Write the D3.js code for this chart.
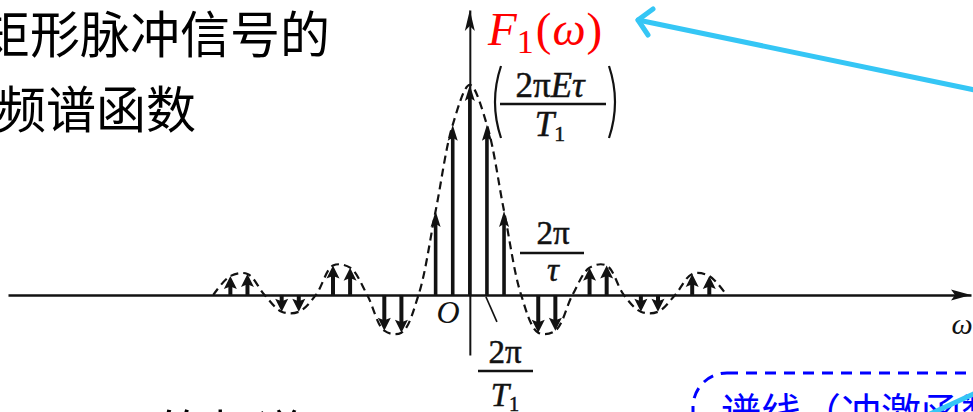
<!DOCTYPE html>
<html>
<head>
<meta charset="utf-8">
<script src="https://cdn.jsdelivr.net/npm/d3@7"></script>
<style>
  html, body { margin: 0; padding: 0; background: #fff; overflow: hidden; }
  svg { display: block; }
</style>
</head>
<body>
<svg id="chart" width="973" height="412"></svg>
<script>
// Line spectrum of a periodic rectangular pulse train (τ/T1 = 1/3).
// Harmonic index n, so ω = n·2π/T1.
const harmonicIndex = [-14, -13, -11, -10, -8, -7, -5, -4, -2, -1, 0, 1, 2, 4, 5, 7, 8, 10, 11, 13, 14];
// Height of each spectral line, in units of 2πEτ/T1.
const lineHeight = [0.09, 0.10, -0.08, -0.08, 0.14, 0.13, -0.17, -0.18, 0.40, 0.81, 1.00, 0.81, 0.40,
                    -0.18, -0.17, 0.13, 0.14, -0.08, -0.08, 0.10, 0.09];
// Zero crossings of the Sa(·) envelope (multiples of 2π/τ).
const envelopeZeros = [-15, -12, -9, -6, -3, 3, 6, 9, 12, 15];
// Extent of the ω axis and of the F1(ω) axis, in the same units.
const omegaExtent = [-27, 29.3];
const ampExtent = [-0.286, 1.357];

const svg = d3.select("#chart");
const W = 973, H = 412;
svg.append("rect").attr("width", W).attr("height", H).attr("fill", "#fff");

const x = d3.scaleLinear().domain(omegaExtent).range([8, 971]);
const y = d3.scaleLinear().domain(ampExtent).range([355, 10]);

const ink = "#121212";
const mathFont = "'Liberation Serif', 'DejaVu Serif', serif";
const cjkFont = "'Noto Sans CJK SC', 'Noto Sans', sans-serif";

// ---------- slide text (left) ----------
svg.append("text")
  .attr("x", 330).attr("y", 53)
  .attr("text-anchor", "end")
  .attr("font-family", cjkFont).attr("font-size", 50).attr("fill", "#000")
  .text("矩形脉冲信号的");
svg.append("text")
  .attr("x", 196).attr("y", 128)
  .attr("text-anchor", "end")
  .attr("font-family", cjkFont).attr("font-size", 50).attr("fill", "#000")
  .text("频谱函数");

// lower line, mostly below the visible area
const lower = svg.append("text")
  .attr("x", -60).attr("y", 452)
  .attr("font-family", cjkFont).attr("font-size", 50).attr("fill", "#000");
lower.append("tspan").text("就是");
lower.append("tspan").attr("font-family", mathFont).attr("font-style", "italic").text("F");
lower.append("tspan").attr("font-family", mathFont).attr("font-size", 32).attr("dy", 8).text("0");
lower.append("tspan").attr("font-family", mathFont).attr("dy", -8).text("(");
lower.append("tspan").attr("font-family", mathFont).attr("font-style", "italic").text("ω");
lower.append("tspan").attr("font-family", mathFont).text(")");
lower.append("tspan").text("的频谱");

// ---------- axes ----------
const xAxis = d3.axisBottom(x).tickValues([]).tickSizeOuter(0);
const gx = svg.append("g").attr("transform", `translate(0,${y(0)})`).call(xAxis);
gx.select(".domain").attr("stroke", ink).attr("stroke-width", 2.6);

const yAxis = d3.axisLeft(y).tickValues([]).tickSizeOuter(0);
const gy = svg.append("g").attr("transform", `translate(${x(0)},0)`).call(yAxis);
gy.select(".domain").attr("stroke", ink).attr("stroke-width", 2);

// axis arrowheads
const xEnd = x.range()[1], yTop = y.range()[1];
svg.append("path")
  .attr("d", `M${xEnd},${y(0)} L${xEnd - 20},${y(0) - 5.5} L${xEnd - 16},${y(0)} L${xEnd - 20},${y(0) + 5.5} Z`)
  .attr("fill", ink);
svg.append("path")
  .attr("d", `M${x(0)},${yTop} L${x(0) - 5},${yTop + 21} L${x(0)},${yTop + 16} L${x(0) + 5},${yTop + 21} Z`)
  .attr("fill", ink);

// ---------- envelope (dashed) ----------
const envPoints = envelopeZeros.map(n => [n, 0])
  .concat(harmonicIndex.map((n, i) => [n, lineHeight[i]]))
  .sort((a, b) => a[0] - b[0]);
const envLine = d3.line()
  .x(d => x(d[0]))
  .y(d => y(d[1]))
  .curve(d3.curveCatmullRom.alpha(0.5));
svg.append("path")
  .datum(envPoints)
  .attr("d", envLine)
  .attr("fill", "none")
  .attr("stroke", ink)
  .attr("stroke-width", 2.2)
  .attr("stroke-dasharray", "8 5");

// ---------- spectral lines (impulses) ----------
const lines = harmonicIndex.map((n, i) => ({ n, h: lineHeight[i] }));
const g = svg.append("g");
lines.forEach(d => {
  const cx = x(d.n);
  const y0 = y(0);
  const tip = y(d.h);
  const dir = d.h >= 0 ? 1 : -1;           // +1: arrow pointing up
  const main = Math.abs(d.n) <= 2;
  const hl = main ? 16 : 13;               // head length
  const hw = main ? 10 : 13;               // head width
  g.append("line")
    .attr("x1", cx).attr("x2", cx)
    .attr("y1", y0).attr("y2", tip + dir * hl * 0.6)
    .attr("stroke", ink).attr("stroke-width", main ? 3.6 : 4);
  g.append("path")
    .attr("d", `M${cx},${tip} L${cx - hw / 2},${tip + dir * hl} L${cx},${tip + dir * hl * 0.8} L${cx + hw / 2},${tip + dir * hl} Z`)
    .attr("fill", ink);
});

// ---------- labels on the plot ----------
function fraction(cx, numParts, denParts, yNum, yBar, yDen, x0, x1, size) {
  const t1 = svg.append("text").attr("x", cx).attr("y", yNum).attr("text-anchor", "middle")
    .attr("font-family", mathFont).attr("font-size", size).attr("fill", ink)
    .attr("stroke", ink).attr("stroke-width", 0.5);
  numParts.forEach(p => {
    const s = t1.append("tspan").text(p.t);
    if (p.i) s.attr("font-style", "italic");
  });
  svg.append("line").attr("x1", x0).attr("x2", x1).attr("y1", yBar).attr("y2", yBar)
    .attr("stroke", ink).attr("stroke-width", 2.4);
  const t2 = svg.append("text").attr("x", cx).attr("y", yDen).attr("text-anchor", "middle")
    .attr("font-family", mathFont).attr("font-size", size).attr("fill", ink)
    .attr("stroke", ink).attr("stroke-width", 0.5);
  denParts.forEach(p => {
    const s = t2.append("tspan").text(p.t);
    if (p.i) s.attr("font-style", "italic");
    if (p.sub) s.attr("font-size", size * 0.62).attr("dy", 5);
  });
}

// peak value (2πEτ / T1)
fraction(550, [{ t: "2π" }, { t: "Eτ", i: true }], [{ t: "T", i: true }, { t: "1", sub: true }],
  97, 104, 136, 500, 606, 35);
svg.append("path").attr("d", "M501,66 Q489,102 501,138").attr("fill", "none")
  .attr("stroke", ink).attr("stroke-width", 2.2);
svg.append("path").attr("d", "M609,66 Q621,102 609,138").attr("fill", "none")
  .attr("stroke", ink).attr("stroke-width", 2.2);

// 2π/τ
fraction(553, [{ t: "2π" }], [{ t: "τ", i: true }], 244, 253, 281, 520, 584, 33);

// 2π/T1 with leader line
svg.append("line").attr("x1", x(1) - 1).attr("y1", y(0) + 2).attr("x2", x(1) + 10).attr("y2", y(0) + 27)
  .attr("stroke", ink).attr("stroke-width", 1.6);
fraction(505, [{ t: "2π" }], [{ t: "T", i: true }, { t: "1", sub: true }], 363, 371, 406, 478, 533, 33);

// origin and ω
svg.append("text").attr("x", 448).attr("y", 323).attr("text-anchor", "middle")
  .attr("font-family", mathFont).attr("font-style", "italic").attr("font-size", 32).attr("fill", ink)
  .text("O");
svg.append("text").attr("x", 962).attr("y", 334).attr("text-anchor", "middle")
  .attr("font-family", mathFont).attr("font-style", "italic").attr("font-size", 30).attr("fill", ink)
  .text("ω");

// F1(ω) title in red
const ft = svg.append("text").attr("x", 488).attr("y", 45)
  .attr("font-family", mathFont).attr("font-size", 47).attr("fill", "#ff0000");
ft.append("tspan").attr("font-style", "italic").text("F");
ft.append("tspan").attr("font-size", 34).attr("dy", 8).text("1");
ft.append("tspan").attr("dy", -8).attr("dx", 2).text("(");
ft.append("tspan").attr("font-style", "italic").attr("dx", 1).text("ω");
ft.append("tspan").attr("dx", 1).text(")");

// ---------- callout arrows (cyan) ----------
const cyan = "#35c6f5";
svg.append("line").attr("x1", 975).attr("y1", 90).attr("x2", 638).attr("y2", 20)
  .attr("stroke", cyan).attr("stroke-width", 5).attr("stroke-linecap", "round");
svg.append("path").attr("d", "M653,9 L638,20 L648,35").attr("fill", "none")
  .attr("stroke", cyan).attr("stroke-width", 5).attr("stroke-linecap", "round").attr("stroke-linejoin", "round");

// ---------- dashed note box (bottom right) ----------
svg.append("rect").attr("x", 693).attr("y", 373).attr("width", 340).attr("height", 120)
  .attr("rx", 34).attr("ry", 34)
  .attr("fill", "none").attr("stroke", "#0000ff").attr("stroke-width", 3)
  .attr("stroke-dasharray", "11 8");
svg.append("text").attr("x", 721).attr("y", 427)
  .attr("font-family", cjkFont).attr("font-size", 40).attr("fill", "#0000ff")
  .text("谱线（冲激函数）");
svg.append("line").attr("x1", 930).attr("y1", 414).attr("x2", 980).attr("y2", 391)
  .attr("stroke", cyan).attr("stroke-width", 5);
</script>
</body>
</html>
